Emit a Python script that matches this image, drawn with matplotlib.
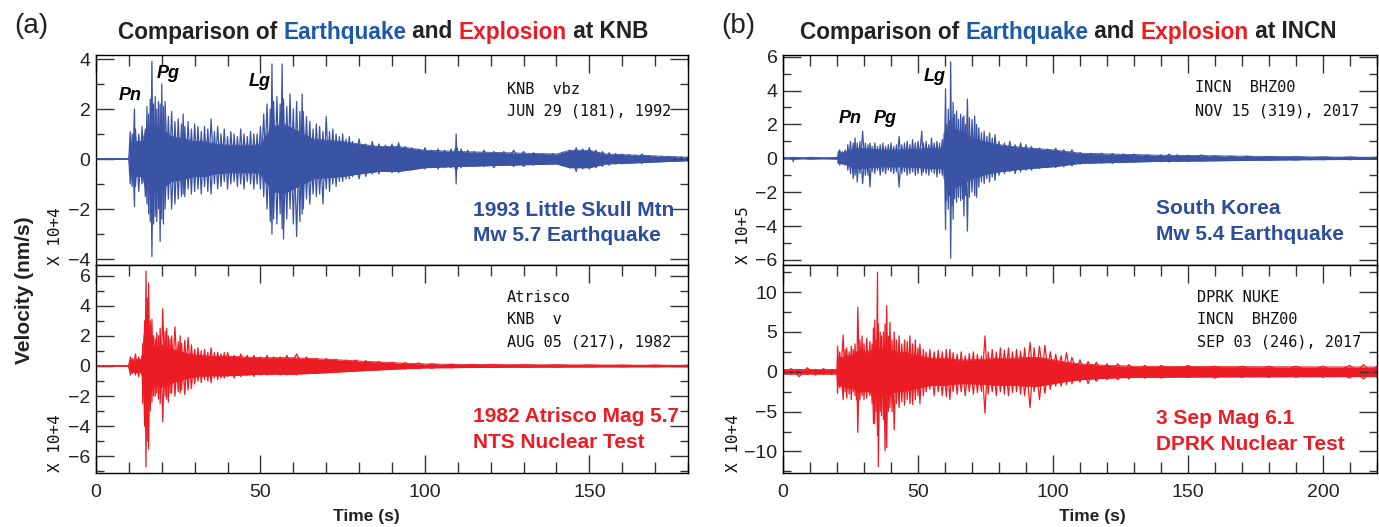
import matplotlib
matplotlib.use('Agg')

import matplotlib.pyplot as plt
from matplotlib.ticker import MultipleLocator, FuncFormatter

# ---- data (time in s, amplitudes in units of each axis scale) ----
# spike extremes (hi / lo) at each knot
knb_eq_t = [0, 10.0, 10.4, 11, 11.7, 12, 13, 14, 15, 15.5,
            16, 16.5, 17, 17.5, 18, 18.5, 19, 19.5, 20, 20.5,
            21, 22, 23, 24, 25, 26, 26.5, 27, 28, 29,
            30, 31, 32, 33, 34, 35, 36, 37, 38, 39,
            40, 41, 42, 43, 44, 45, 46, 47, 48, 49,
            50, 51, 52, 53, 53.5, 54, 55, 56, 56.6, 57,
            58, 59, 60, 61, 62, 62.7, 63, 64, 65, 66,
            67, 68, 69, 70, 71, 72, 73, 74, 75, 76,
            77, 78, 80, 82, 84, 86, 88, 90, 92, 94,
            96, 98, 100, 102, 104, 106, 108, 109.2, 109.5, 109.8,
            111, 113, 115, 118, 121, 124, 127, 130, 133, 136,
            139, 142, 144, 146, 148, 150, 152, 154, 156, 158,
            160, 162, 164, 166, 168, 170, 172, 174, 176, 178,
            180]
knb_eq_hi = [0, 0, 1.1, 1.0, 2.0, 1.2, 1.0, 1.3, 1.2, 2.1,
             1.8, 2.4, 3.9, 2.2, 2.5, 2.0, 2.3, 2.2, 3.0, 2.1,
             2.3, 1.7, 1.9, 1.5, 1.6, 1.4, 1.8, 1.3, 1.5, 1.2,
             1.4, 1.3, 1.1, 1.3, 1.2, 1.6, 1.1, 1.3, 1.0, 1.2,
             0.9, 1.1, 1.0, 0.9, 1.2, 1.0, 0.9, 1.1, 1.0, 1.0,
             1.3, 1.8, 2.2, 2.0, 3.8, 2.3, 2.5, 2.2, 3.8, 2.4,
             2.1, 2.6, 2.0, 2.3, 1.9, 2.6, 1.9, 1.7, 1.5, 1.2,
             1.4, 1.3, 1.1, 1.7, 1.1, 1.2, 1.0, 0.9, 1.0, 0.8,
             0.9, 0.7, 0.8, 0.6, 0.7, 0.6, 0.55, 0.6, 0.65, 0.5,
             0.45, 0.4, 0.45, 0.35, 0.4, 0.35, 0.4, 0.4, 1.0, 0.45,
             0.4, 0.35, 0.3, 0.35, 0.3, 0.3, 0.35, 0.3, 0.25, 0.2,
             0.22, 0.25, 0.35, 0.45, 0.4, 0.45, 0.35, 0.3, 0.25, 0.22,
             0.2, 0.18, 0.15, 0.2, 0.12, 0.1, 0.1, 0.1, 0.08, 0.08,
             0.08]
knb_eq_lo = [0, 0, -1.0, -1.1, -1.9, -1.1, -1.3, -1.0, -1.5, -1.8,
             -2.2, -2.5, -3.9, -2.6, -2.3, -2.5, -2.0, -3.3, -2.4, -2.6,
             -2.0, -1.6, -2.0, -1.8, -1.6, -1.5, -1.4, -1.5, -1.2, -1.4,
             -1.3, -1.2, -1.4, -1.1, -1.3, -1.4, -1.0, -1.2, -1.1, -0.9,
             -1.2, -1.0, -0.9, -1.1, -1.0, -1.2, -0.9, -1.0, -1.2, -1.0,
             -1.2, -1.5, -2.0, -2.5, -3.0, -2.4, -2.6, -2.2, -2.8, -3.2,
             -2.4, -2.0, -2.6, -3.1, -2.5, -2.2, -2.0, -1.6, -1.8, -1.4,
             -1.5, -1.4, -1.8, -1.2, -1.3, -1.0, -1.1, -0.9, -0.9, -0.8,
             -0.8, -0.7, -0.8, -0.7, -0.6, -0.6, -0.5, -0.55, -0.55, -0.45,
             -0.45, -0.4, -0.4, -0.35, -0.4, -0.35, -0.35, -0.4, -1.0, -0.4,
             -0.35, -0.3, -0.3, -0.3, -0.35, -0.25, -0.3, -0.3, -0.25, -0.2,
             -0.2, -0.25, -0.35, -0.5, -0.4, -0.4, -0.35, -0.3, -0.25, -0.2,
             -0.2, -0.18, -0.15, -0.18, -0.12, -0.1, -0.1, -0.1, -0.08, -0.08,
             -0.08]
# solid body of the trace (half-width)
knb_eq_core_t = [0, 10, 10.4, 12, 14, 15, 17, 19, 21, 23,
                 25, 27, 30, 33, 36, 40, 44, 48, 50, 52,
                 54, 57, 60, 63, 66, 70, 75, 80, 86, 92,
                 100, 110, 125, 140, 144, 150, 155, 165, 180]
knb_eq_core = [0, 0, 0.6, 0.7, 0.7, 1.1, 1.4, 1.3, 1.1, 0.9,
               0.85, 0.8, 0.7, 0.7, 0.6, 0.55, 0.55, 0.55, 0.6, 1.0,
               1.3, 1.4, 1.2, 1.0, 0.8, 0.75, 0.7, 0.6, 0.5, 0.5,
               0.35, 0.3, 0.25, 0.2, 0.35, 0.35, 0.2, 0.15, 0.07]

knb_ex_t = [0, 9.9, 10.5, 11, 12, 13, 14, 14.2, 14.8, 15.2,
            15.6, 16, 16.5, 17, 17.5, 18, 18.5, 19, 19.5, 20.3,
            21, 21.5, 22, 22.5, 23, 24, 25, 25.6, 26, 27,
            28, 29, 30, 31, 32, 33, 34, 35, 36, 37,
            38, 39, 40, 42, 44, 46, 48, 50, 52, 54,
            56, 58, 61, 64, 67, 70, 73, 76, 79, 82,
            86, 90, 94, 98, 102, 108, 114, 120, 130, 140,
            150, 160, 170, 180]
knb_ex_hi = [0, 0, 0.6, 0.5, 0.8, 0.6, 0.7, 1.5, 3.0, 6.3,
             4.5, 5.5, 3.0, 3.1, 2.0, 1.8, 2.2, 2.0, 2.5, 3.8,
             2.3, 2.5, 2.0, 1.8, 2.0, 2.6, 1.6, 2.0, 1.5, 1.7,
             1.9, 1.4, 1.1, 1.2, 1.0, 1.1, 0.9, 1.2, 0.9, 0.9,
             0.8, 0.9, 0.9, 0.7, 0.8, 0.7, 0.7, 0.6, 0.7, 0.6,
             0.6, 0.7, 0.8, 0.6, 0.5, 0.5, 0.45, 0.4, 0.4, 0.35,
             0.3, 0.25, 0.22, 0.2, 0.15, 0.12, 0.1, 0.1, 0.08, 0.07,
             0.06, 0.05, 0.05, 0.05]
knb_ex_lo = [0, 0, -0.6, -0.5, -0.6, -0.7, -0.6, -2.5, -4.0, -6.7,
             -5.0, -5.5, -3.0, -2.4, -2.0, -2.0, -1.8, -2.2, -2.5, -3.7,
             -2.0, -2.2, -2.4, -1.8, -1.8, -2.0, -1.7, -1.8, -1.6, -1.9,
             -1.6, -1.5, -1.2, -1.0, -1.1, -0.9, -1.0, -1.1, -0.8, -0.9,
             -0.8, -0.8, -0.7, -0.8, -0.7, -0.6, -0.7, -0.6, -0.6, -0.5,
             -0.6, -0.6, -0.6, -0.5, -0.5, -0.4, -0.4, -0.35, -0.3, -0.3,
             -0.25, -0.22, -0.2, -0.18, -0.15, -0.12, -0.1, -0.08, -0.07, -0.06,
             -0.05, -0.05, -0.05, -0.05]
knb_ex_core_t = [0, 9.9, 10.5, 14, 14.6, 15.2, 16, 17, 18, 20,
                 22, 25, 28, 31, 35, 40, 50, 60, 70, 80,
                 90, 100, 120, 180]
knb_ex_core = [0, 0, 0.4, 0.45, 2.0, 3.0, 2.6, 1.5, 1.2, 1.4,
               1.2, 1.0, 0.8, 0.7, 0.65, 0.65, 0.55, 0.55, 0.45, 0.33,
               0.22, 0.13, 0.09, 0.045]

incn_eq_t = [0, 3.5, 3.8, 4.1, 10, 20.3, 20.5, 21, 22, 23,
             23.6, 24, 25, 26, 26.7, 27.5, 28.5, 29.5, 30.5, 31.5,
             32.2, 33, 34, 35, 36, 37, 38, 39, 40, 41,
             42, 43, 44, 45, 46, 47, 48, 49, 50, 51.4,
             52, 53, 54, 55, 56, 57, 58, 59, 59.7, 60.2,
             60.7, 61.2, 61.7, 62.1, 62.6, 63, 63.6, 64.3, 65, 65.8,
             66.5, 67, 67.6, 68.3, 69, 70, 71, 71.7, 72.5, 73.5,
             74.5, 75.5, 76.5, 77.5, 78.5, 80, 82, 84, 86, 88,
             90, 92, 95, 98, 101, 104, 107, 110, 114, 118,
             122, 126, 130, 135, 140, 143, 146, 150, 155, 160,
             166, 172, 180, 190, 200, 210, 220]
incn_eq_hi = [0.05, 0.05, 0.05, 0.05, 0.05, 0.05, 0.4, 0.5, 0.4, 0.5,
              0.4, 0.8, 1.0, 0.9, 1.2, 0.9, 1.0, 1.6, 0.9, 0.8,
              0.9, 0.7, 0.9, 0.7, 0.8, 0.9, 0.7, 0.8, 0.9, 0.7,
              0.8, 1.3, 0.8, 0.9, 1.0, 0.8, 1.1, 0.9, 1.0, 1.6,
              0.9, 1.0, 0.8, 1.2, 0.9, 1.0, 0.9, 1.1, 1.5, 4.1,
              2.0, 2.9, 2.2, 5.7, 2.4, 3.3, 2.6, 2.8, 2.3, 2.6,
              2.4, 2.5, 2.0, 3.5, 2.4, 2.3, 2.5, 2.0, 1.8, 1.5,
              1.6, 1.3, 1.5, 1.2, 1.4, 1.0, 0.9, 1.0, 0.8, 0.9,
              0.8, 0.7, 0.6, 0.55, 0.6, 0.5, 0.5, 0.35, 0.3, 0.3,
              0.28, 0.25, 0.25, 0.2, 0.2, 0.25, 0.2, 0.18, 0.2, 0.15,
              0.12, 0.12, 0.1, 0.1, 0.08, 0.08, 0.07]
incn_eq_lo = [-0.05, -0.05, -0.2, -0.05, -0.05, -0.05, -0.3, -0.4, -0.3, -0.4,
              -0.3, -0.7, -0.9, -1.2, -1.0, -1.4, -0.9, -1.5, -1.0, -1.0,
              -1.7, -0.8, -0.9, -0.7, -1.0, -0.8, -0.9, -0.7, -0.8, -0.9,
              -0.8, -1.7, -0.9, -0.8, -1.0, -0.9, -0.8, -1.0, -0.9, -1.0,
              -0.8, -0.9, -1.0, -0.8, -0.9, -1.1, -0.9, -1.0, -1.2, -4.2,
              -2.5, -3.0, -2.2, -5.9, -2.8, -3.6, -2.4, -2.6, -2.3, -2.5,
              -2.4, -3.4, -2.2, -4.3, -2.3, -2.0, -2.2, -2.3, -1.7, -1.4,
              -1.5, -1.2, -1.4, -1.1, -1.3, -1.0, -0.9, -0.8, -0.9, -0.8,
              -0.7, -0.7, -0.6, -0.5, -0.55, -0.5, -0.45, -0.35, -0.3, -0.28,
              -0.3, -0.25, -0.22, -0.2, -0.2, -0.22, -0.18, -0.18, -0.15, -0.14,
              -0.12, -0.1, -0.1, -0.1, -0.08, -0.08, -0.07]
incn_eq_core_t = [0, 20.3, 20.5, 23, 25, 28, 32, 36, 40, 45,
                  50, 55, 59.7, 60.2, 62, 64, 67, 70, 74, 78,
                  85, 92, 100, 110, 125, 140, 160, 190, 220]
incn_eq_core = [0.03, 0.03, 0.3, 0.35, 0.5, 0.6, 0.55, 0.5, 0.5, 0.5,
                0.55, 0.6, 0.6, 1.6, 1.9, 1.7, 1.5, 1.2, 1.0, 0.85,
                0.7, 0.6, 0.5, 0.3, 0.24, 0.18, 0.15, 0.09, 0.06]

dprk_t = [0, 3, 6, 9, 12, 15, 18, 20.0, 20.2, 21,
          22.3, 23, 23.6, 24.5, 25.3, 26, 26.7, 27.2, 27.7, 28.5,
          29.3, 30, 31, 32.2, 33, 33.5, 34, 34.5, 35.0, 35.3,
          36, 36.5, 37.2, 37.8, 38.4, 39, 39.6, 40.4, 41.2, 42,
          43, 44, 45, 46, 47, 48, 49, 50, 50.7, 52,
          53, 54.4, 56, 57.5, 59, 60.5, 61.8, 63, 64.5, 66,
          67.5, 69, 70.5, 72, 73.5, 74.8, 76, 77.5, 79, 80.5,
          82, 83.5, 85, 86.5, 88, 89.5, 91.5, 93, 95, 97,
          99, 101, 103, 105, 107, 110, 113, 116, 120, 124,
          128, 134, 140, 150, 160, 170, 180, 190, 200, 210,
          215, 220]
dprk_hi = [0.3, 0.4, 0.3, 0.5, 0.3, 0.4, 0.3, 0.3, 3.2, 2.5,
           4.6, 2.8, 3.0, 2.5, 3.2, 2.8, 3.5, 2.5, 8.1, 4.0,
           4.5, 3.5, 4.2, 3.8, 3.5, 5.5, 6.5, 4.0, 12.5, 6.0,
           5.0, 4.5, 5.0, 6.0, 8.3, 4.5, 6.2, 4.0, 5.0, 4.0,
           4.5, 3.5, 4.0, 3.8, 4.5, 3.5, 4.0, 3.0, 3.5, 2.8,
           2.5, 2.8, 2.5, 2.7, 2.5, 2.8, 2.8, 2.4, 2.2, 2.5,
           2.0, 2.3, 2.5, 2.2, 2.0, 4.5, 2.5, 2.8, 2.5, 3.0,
           2.7, 3.0, 2.5, 2.8, 2.6, 3.0, 3.7, 3.0, 3.2, 3.3,
           2.5, 2.2, 2.0, 2.4, 1.8, 1.5, 1.3, 1.2, 1.0, 1.0,
           0.9, 0.8, 0.8, 0.8, 0.7, 0.7, 0.7, 0.7, 0.7, 0.8,
           0.9, 0.7]
dprk_lo = [-0.3, -0.3, -0.6, -0.3, -0.4, -0.3, -0.3, -0.3, -2.7, -2.0,
           -3.5, -2.5, -3.3, -2.8, -3.5, -2.5, -3.0, -3.5, -7.6, -3.5,
           -3.0, -3.5, -3.3, -3.0, -4.0, -6.5, -6.5, -5.0, -8.0, -11.9,
           -5.0, -5.5, -6.0, -9.9, -9.5, -5.0, -4.5, -5.0, -7.3, -4.0,
           -4.5, -3.8, -4.2, -3.5, -4.0, -4.1, -3.5, -3.0, -4.0, -3.0,
           -2.5, -2.2, -3.0, -2.5, -3.0, -3.1, -3.5, -2.5, -2.8, -2.5,
           -3.0, -2.5, -2.8, -2.6, -2.5, -5.2, -2.8, -2.5, -3.0, -2.5,
           -2.8, -3.0, -2.6, -2.5, -2.8, -3.0, -4.5, -2.5, -3.5, -2.7,
           -2.2, -1.8, -1.8, -1.6, -1.5, -1.3, -1.5, -1.2, -1.0, -1.0,
           -0.9, -0.8, -0.8, -0.7, -0.8, -0.7, -0.7, -0.7, -0.7, -0.8,
           -0.9, -0.7]
dprk_core_t = [0, 20.0, 20.2, 23, 26, 28, 31, 34, 36, 39,
               42, 46, 50, 55, 60, 65, 70, 75, 80, 85,
               90, 95, 100, 105, 110, 120, 130, 160, 220]
dprk_core = [0.28, 0.28, 1.7, 1.9, 2.1, 2.6, 2.4, 3.0, 3.0, 2.8,
             2.5, 2.4, 2.0, 1.7, 1.7, 1.5, 1.5, 1.6, 1.7, 1.7,
             1.8, 1.8, 1.5, 1.2, 1.0, 0.8, 0.7, 0.65, 0.6]

BLUE = '#3a53a4'
TXT_BLUE = '#2b4d9b'
TITLE_BLUE = '#1c5aa8'
RED = '#ec1c24'
INK = '#222222'
TICK = '#333333'

W, H = 1379, 527
fig = plt.figure(figsize=(W / 100, H / 100), dpi=100)
plt.rcParams['font.family'] = ['Liberation Sans', 'DejaVu Sans']
NARROW = ['Liberation Sans Narrow', 'Liberation Sans', 'DejaVu Sans']
MONO = ['DejaVu Sans Mono']


def fx(px):
    return px / W


def fy(py):
    return 1 - py / H


def box(left, right, top, bottom):
    return [fx(left), fy(bottom), (right - left) / W, (bottom - top) / H]


ax_a1 = fig.add_axes(box(96, 688, 55, 265))
ax_a2 = fig.add_axes(box(96, 688, 265, 473))
ax_b1 = fig.add_axes(box(783, 1377, 55, 265))
ax_b2 = fig.add_axes(box(783, 1377, 265, 473))


def trace(ax, t, hi, lo, core_t, core, color):
    neg = [-c for c in core]
    ax.fill_between(core_t, neg, core, color=color, lw=0)
    ax.plot(core_t, core, color=color, lw=0.6)
    ax.plot(core_t, neg, color=color, lw=0.6)
    # the trace swings between the read extremes: one line up-down, one down-up
    swing_a = [h if i % 2 == 0 else l for i, (h, l) in enumerate(zip(hi, lo))]
    swing_b = [l if i % 2 == 0 else h for i, (h, l) in enumerate(zip(hi, lo))]
    ax.plot(t, swing_a, color=color, lw=0.9)
    ax.plot(t, swing_b, color=color, lw=0.9)


def style(ax, xmax, ylim, major, minor, bottom_axis):
    ax.set_xlim(0, xmax)
    ax.set_ylim(ylim)
    for s in ax.spines.values():
        s.set_linewidth(1.0)
    ax.yaxis.set_major_locator(MultipleLocator(major))
    ax.yaxis.set_minor_locator(MultipleLocator(minor))
    ax.xaxis.set_major_locator(MultipleLocator(50))
    ax.xaxis.set_minor_locator(MultipleLocator(10))
    ax.xaxis.set_major_formatter(FuncFormatter(lambda v, p: f'{v:.0f}'))
    ax.tick_params(axis='y', which='major', direction='in', length=13, width=1,
                   left=True, right=True, labelsize=14, pad=4, colors=TICK,
                   labelcolor=INK)
    ax.tick_params(axis='y', which='minor', direction='in', length=6, width=1,
                   left=True, right=True, colors=TICK)
    for lab in ax.get_yticklabels():
        lab.set_family(NARROW)
    ax.tick_params(axis='x', which='both', direction='in', width=1, colors=TICK,
                   top=True, bottom=bottom_axis, labelbottom=bottom_axis)
    ax.tick_params(axis='x', which='major', length=13, labelsize=14, pad=8,
                   labelcolor=INK)
    ax.tick_params(axis='x', which='minor', length=8)
    for lab in ax.get_xticklabels():
        lab.set_family(NARROW)


trace(ax_a1, knb_eq_t, knb_eq_hi, knb_eq_lo, knb_eq_core_t, knb_eq_core, BLUE)
trace(ax_a2, knb_ex_t, knb_ex_hi, knb_ex_lo, knb_ex_core_t, knb_ex_core, RED)
trace(ax_b1, incn_eq_t, incn_eq_hi, incn_eq_lo, incn_eq_core_t, incn_eq_core, BLUE)
trace(ax_b2, dprk_t, dprk_hi, dprk_lo, dprk_core_t, dprk_core, RED)

style(ax_a1, 180, (-4.24, 4.16), 2, 1, False)
style(ax_a2, 180, (-7.1, 6.7), 2, 1, True)
style(ax_b1, 220, (-6.3, 6.1), 2, 1, False)
style(ax_b2, 220, (-12.7, 13.4), 5, 2.5, True)

# phase labels
ph = dict(fontsize=13, fontweight='bold', fontstyle='italic', ha='center', va='center')
ax_a1.text(10.4, 2.56, 'Pn', **ph)
ax_a1.text(22, 3.4, 'Pg', **ph)
ax_a1.text(49.7, 3.08, 'Lg', **ph)
ax_b1.text(24.8, 2.37, 'Pn', **ph)
ax_b1.text(37.8, 2.37, 'Pg', **ph)
ax_b1.text(56.3, 4.85, 'Lg', **ph)

# station header text
mono = dict(fontsize=11, family=MONO, color='#111111', ha='left', va='center')
fig.text(fx(507), fy(89), 'KNB  vbz', **mono)
fig.text(fx(507), fy(111), 'JUN 29 (181), 1992', **mono)
fig.text(fx(507), fy(298), 'Atrisco', **mono)
fig.text(fx(507), fy(320), 'KNB  v', **mono)
fig.text(fx(507), fy(342), 'AUG 05 (217), 1982', **mono)
fig.text(fx(1195), fy(88), 'INCN  BHZ00', **mono)
fig.text(fx(1195), fy(111), 'NOV 15 (319), 2017', **mono)
fig.text(fx(1197), fy(298), 'DPRK NUKE', **mono)
fig.text(fx(1197), fy(320), 'INCN  BHZ00', **mono)
fig.text(fx(1197), fy(342), 'SEP 03 (246), 2017', **mono)

# scale factor labels
sc = dict(fontsize=11.5, family=MONO, color='#111111', rotation=90, ha='center', va='center')
fig.text(fx(56), fy(236), 'X 10+4', **sc)
fig.text(fx(56), fy(443), 'X 10+4', **sc)
fig.text(fx(743), fy(235), 'X 10+5', **sc)
fig.text(fx(733), fy(443), 'X 10+4', **sc)

# event labels
ev = dict(fontsize=15, fontweight='bold', ha='left', va='center')
fig.text(fx(473), fy(211), '1993 Little Skull Mtn', color=TXT_BLUE, **ev)
fig.text(fx(473), fy(236), 'Mw 5.7 Earthquake', color=TXT_BLUE, **ev)
fig.text(fx(473), fy(416), '1982 Atrisco Mag 5.7', color=RED, **ev)
fig.text(fx(473), fy(442), 'NTS Nuclear Test', color=RED, **ev)
fig.text(fx(1156), fy(208), 'South Korea', color=TXT_BLUE, **ev)
fig.text(fx(1156), fy(234), 'Mw 5.4 Earthquake', color=TXT_BLUE, **ev)
fig.text(fx(1156), fy(418), '3 Sep Mag 6.1', color=RED, **ev)
fig.text(fx(1156), fy(444), 'DPRK Nuclear Test', color=RED, **ev)

# axis labels
fig.text(fx(25), fy(290), 'Velocity (nm/s)', fontsize=15, fontweight='bold',
         rotation=90, ha='center', va='center', color=INK)
fig.text(fx(366), fy(517), 'Time (s)', fontsize=12.5, fontweight='bold',
         ha='center', va='center', color=INK)
fig.text(fx(1092), fy(517), 'Time (s)', fontsize=12.5, fontweight='bold',
         ha='center', va='center', color=INK)

# panel letters
fig.text(fx(31), fy(26), '(a)', fontsize=20, ha='center', va='center', color=INK)
fig.text(fx(738), fy(26), '(b)', fontsize=20, ha='center', va='center', color=INK)


def chain_title(x_px, y_px, pieces, size=16.3):
    # title in several colours: each piece starts where the previous one ends
    prev = fig.text(fx(x_px), fy(y_px), pieces[0][0], color=pieces[0][1],
                    fontsize=size, fontweight='bold', ha='left', va='center')
    for txt, col in pieces[1:]:
        prev = ax_a1.annotate(txt, xy=(1, 0), xycoords=prev, ha='left', va='bottom',
                              color=col, fontsize=size, fontweight='bold',
                              annotation_clip=False)


chain_title(118, 32, [('Comparison of ', INK), ('Earthquake', TITLE_BLUE),
                      (' and ', INK), ('Explosion', RED), (' at KNB', INK)])
chain_title(800, 32, [('Comparison of ', INK), ('Earthquake', TITLE_BLUE),
                      (' and ', INK), ('Explosion', RED), (' at INCN', INK)])

plt.savefig('out.png', dpi=100)
